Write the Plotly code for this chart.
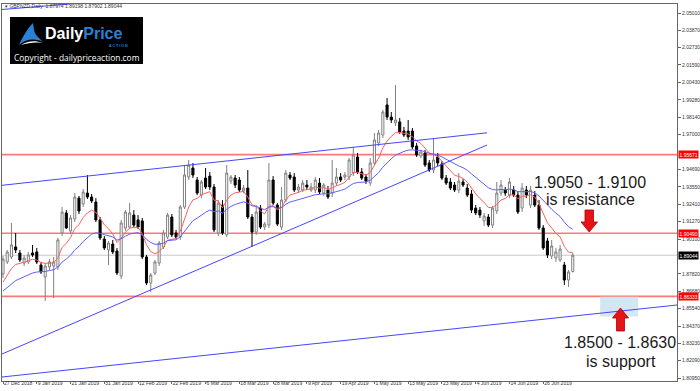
import plotly.graph_objects as go
import pandas as pd

# ---------------- data ----------------
dates = [d.strftime('%Y-%m-%d') for d in pd.bdate_range('2018-12-27', '2019-07-05')
         if d.strftime('%Y-%m-%d') != '2019-01-01']

opens = [1.8781, 1.8860, 1.8893, 1.8959, 1.8919, 1.8853, 1.8860, 1.8919, 1.8926, 1.8840,
         1.8761, 1.8827, 1.8833, 1.8827, 1.9051, 1.9183, 1.9064, 1.9143, 1.9281, 1.9242,
         1.9314, 1.9288, 1.9255, 1.9137, 1.9011, 1.8939, 1.8978, 1.8932, 1.8767, 1.9084,
         1.9090, 1.9169, 1.9137, 1.9130, 1.8893, 1.8721, 1.8787, 1.8853, 1.8959, 1.9024,
         1.9156, 1.9051, 1.9024, 1.9222, 1.9420, 1.9479, 1.9400, 1.9301, 1.9413, 1.9426,
         1.9354, 1.9051, 1.9235, 1.9038, 1.9393, 1.9413, 1.9400, 1.9328, 1.9347, 1.9156,
         1.9057, 1.9215, 1.9090, 1.9103, 1.9400, 1.9235, 1.9090, 1.9268, 1.9433, 1.9420,
         1.9334, 1.9334, 1.9367, 1.9334, 1.9334, 1.9380, 1.9314, 1.9334, 1.9314, 1.9380,
         1.9420, 1.9420, 1.9420, 1.9446, 1.9552, 1.9453, 1.9420, 1.9380, 1.9512, 1.9644,
         1.9697, 1.9895, 1.9815, 1.9776, 1.9783, 1.9723, 1.9723, 1.9723, 1.9624, 1.9558,
         1.9578, 1.9512, 1.9466, 1.9552, 1.9506, 1.9413, 1.9387, 1.9367, 1.9334, 1.9387,
         1.9347, 1.9308, 1.9215, 1.9202, 1.9130, 1.9156, 1.9103, 1.9196, 1.9314, 1.9334,
         1.9301, 1.9334, 1.9301, 1.9215, 1.9334, 1.9235, 1.9301, 1.9235, 1.9084, 1.8998,
         1.8899, 1.8886, 1.8873, 1.8840, 1.8741, 1.87974]
highs = [1.8899, 1.8939, 1.9117, 1.9051, 1.8939, 1.8906, 1.8926, 1.8972, 1.8952, 1.8860,
         1.8853, 1.8879, 1.8893, 1.9018, 1.9222, 1.9202, 1.9169, 1.9314, 1.9295, 1.9341,
         1.9433, 1.9308, 1.9281, 1.9156, 1.9031, 1.8998, 1.9005, 1.8952, 1.9137, 1.9202,
         1.9248, 1.9202, 1.9169, 1.9150, 1.8906, 1.8787, 1.8873, 1.8998, 1.9071, 1.9183,
         1.9176, 1.9071, 1.9235, 1.9499, 1.9532, 1.9512, 1.9420, 1.9400, 1.9479, 1.9453,
         1.9374, 1.9268, 1.9268, 1.9499, 1.9433, 1.9433, 1.9420, 1.9367, 1.9466, 1.9176,
         1.9235, 1.9235, 1.9123, 1.9512, 1.9426, 1.9248, 1.9354, 1.9466, 1.9453, 1.9446,
         1.9374, 1.9400, 1.9400, 1.9380, 1.9420, 1.9413, 1.9380, 1.9361, 1.9532, 1.9479,
         1.9446, 1.9453, 1.9545, 1.9618, 1.9578, 1.9479, 1.9440, 1.9545, 1.9710, 1.9730,
         1.9862, 1.9941, 1.9848, 2.0026, 1.9809, 1.9750, 1.9796, 1.9743, 1.9644, 1.9598,
         1.9598, 1.9532, 1.9677, 1.9578, 1.9525, 1.9433, 1.9413, 1.9387, 1.9446, 1.9407,
         1.9374, 1.9334, 1.9235, 1.9222, 1.9183, 1.9176, 1.9229, 1.9387, 1.9400, 1.9354,
         1.9413, 1.9361, 1.9328, 1.9380, 1.9361, 1.9361, 1.9328, 1.9268, 1.9103, 1.9018,
         1.9005, 1.8952, 1.8972, 1.8860, 1.8807, 1.89198]
lows = [1.8754, 1.8846, 1.8879, 1.8919, 1.8860, 1.8833, 1.8846, 1.8893, 1.8846, 1.8781,
        1.8603, 1.8807, 1.8622, 1.8807, 1.9031, 1.9077, 1.9044, 1.9123, 1.9176, 1.9222,
        1.9275, 1.9248, 1.9123, 1.9005, 1.8939, 1.8840, 1.8912, 1.8774, 1.8747, 1.9064,
        1.9077, 1.9090, 1.9077, 1.8879, 1.8708, 1.8662, 1.8774, 1.8833, 1.8945, 1.9011,
        1.9024, 1.9011, 1.9005, 1.9209, 1.9400, 1.9413, 1.9301, 1.9281, 1.9341, 1.9334,
        1.9057, 1.9031, 1.9038, 1.9024, 1.9374, 1.9347, 1.9321, 1.9314, 1.9143, 1.8959,
        1.9038, 1.9077, 1.9071, 1.9084, 1.9235, 1.9097, 1.9071, 1.9255, 1.9400, 1.9321,
        1.9314, 1.9321, 1.9334, 1.9321, 1.9314, 1.9308, 1.9295, 1.9275, 1.9288, 1.9361,
        1.9387, 1.9400, 1.9400, 1.9426, 1.9440, 1.9400, 1.9374, 1.9361, 1.9499, 1.9624,
        1.9677, 1.9796, 1.9776, 1.9756, 1.9704, 1.9684, 1.9664, 1.9605, 1.9552, 1.9545,
        1.9486, 1.9453, 1.9446, 1.9492, 1.9400, 1.9367, 1.9334, 1.9321, 1.9314, 1.9354,
        1.9288, 1.9183, 1.9169, 1.9150, 1.9097, 1.9090, 1.9084, 1.9176, 1.9295, 1.9295,
        1.9281, 1.9288, 1.9176, 1.9189, 1.9281, 1.9215, 1.9222, 1.9071, 1.8939, 1.8886,
        1.8879, 1.8860, 1.8860, 1.8708, 1.8695, 1.87902]
closes = [1.8879, 1.8926, 1.8972, 1.8939, 1.8873, 1.8886, 1.8906, 1.8906, 1.8860, 1.8794,
          1.8833, 1.8860, 1.8860, 1.9005, 1.9189, 1.9084, 1.9150, 1.9288, 1.9196, 1.9321,
          1.9288, 1.9262, 1.9137, 1.9018, 1.8952, 1.8985, 1.8926, 1.8787, 1.9117, 1.9189,
          1.9183, 1.9103, 1.9090, 1.8893, 1.8721, 1.8774, 1.8860, 1.8985, 1.9051, 1.9169,
          1.9038, 1.9024, 1.9222, 1.9433, 1.9499, 1.9433, 1.9314, 1.9387, 1.9354, 1.9354,
          1.9071, 1.9248, 1.9051, 1.9446, 1.9420, 1.9367, 1.9334, 1.9347, 1.9156, 1.9057,
          1.9189, 1.9090, 1.9110, 1.9400, 1.9248, 1.9110, 1.9268, 1.9446, 1.9413, 1.9334,
          1.9354, 1.9380, 1.9354, 1.9354, 1.9400, 1.9321, 1.9367, 1.9288, 1.9380, 1.9420,
          1.9400, 1.9433, 1.9532, 1.9565, 1.9453, 1.9413, 1.9393, 1.9512, 1.9664, 1.9710,
          1.9848, 1.9815, 1.9796, 1.9796, 1.9717, 1.9697, 1.9684, 1.9618, 1.9565, 1.9585,
          1.9499, 1.9466, 1.9532, 1.9512, 1.9413, 1.9380, 1.9347, 1.9334, 1.9393, 1.9367,
          1.9301, 1.9202, 1.9183, 1.9169, 1.9163, 1.9103, 1.9215, 1.9314, 1.9367, 1.9314,
          1.9387, 1.9301, 1.9189, 1.9347, 1.9301, 1.9334, 1.9235, 1.9084, 1.8952, 1.8906,
          1.8965, 1.8926, 1.8945, 1.8741, 1.8794, 1.89044]

ema_fast_period, ema_slow_period = 8, 21
ema_fast_seed, ema_slow_seed = 1.8684, 1.8647

y_ticks = [2.05010, 2.03870, 2.02730, 2.01590, 2.00430, 1.99280, 1.98140, 1.97000,
           1.94690, 1.93550, 1.92410, 1.91270, 1.90100, 1.87820, 1.86680, 1.85540,
           1.84370, 1.83230, 1.82090, 1.80950]
red_levels = [1.95671, 1.90490, 1.86333]
last_price = 1.89044

# trend lines: (bar index, price) anchor pairs
upper_channel = [(-0.24, 1.93652), (114.7, 1.97113)]
rising_line = [(-0.24, 1.82531), (114.7, 1.96309)]
lower_channel = [(-0.24, 1.81015), (159.7, 1.85761)]
top_stub = [(-0.24, 2.05241), (15.9, 2.05603)]

support_zone = (1.8500, 1.8630)
support_zone_bars = (141.5, 150.5)
label_every = 8

x_range = [-0.24, 159.7]
y_range = [1.80752, 2.05603]


def ema(values, period, seed):
    a = 2.0 / (period + 1)
    out, prev = [], seed
    for v in values:
        prev = prev + a * (v - prev)
        out.append(prev)
    return out


idx = list(range(len(dates)))
fig = go.Figure()

fig.add_trace(go.Candlestick(
    x=idx, open=opens, high=highs, low=lows, close=closes,
    increasing=dict(line=dict(color='#808080', width=1), fillcolor='#ffffff'),
    decreasing=dict(line=dict(color='#000000', width=1), fillcolor='#000000'),
    showlegend=False, hoverinfo='skip'))

fig.add_trace(go.Scatter(x=idx, y=ema(closes, ema_fast_period, ema_fast_seed), mode='lines',
                         line=dict(color='rgb(255,95,95)', width=1), showlegend=False, hoverinfo='skip'))
fig.add_trace(go.Scatter(x=idx, y=ema(closes, ema_slow_period, ema_slow_seed), mode='lines',
                         line=dict(color='rgb(95,95,255)', width=1), showlegend=False, hoverinfo='skip'))

shapes = []
for lv in red_levels:
    shapes.append(dict(type='line', xref='paper', x0=0, x1=1, yref='y', y0=lv, y1=lv,
                       line=dict(color='rgb(255,120,120)', width=1.6), layer='below'))
shapes.append(dict(type='line', xref='paper', x0=0, x1=1, yref='y', y0=last_price, y1=last_price,
                   line=dict(color='#c8c8c8', width=1), layer='below'))
for seg in (upper_channel, rising_line, lower_channel, top_stub):
    shapes.append(dict(type='line', xref='x', yref='y', x0=seg[0][0], y0=seg[0][1],
                       x1=seg[1][0], y1=seg[1][1], line=dict(color='rgb(70,70,255)', width=1)))
shapes.append(dict(type='rect', xref='x', yref='y', x0=support_zone_bars[0], x1=support_zone_bars[1],
                   y0=support_zone[0], y1=support_zone[1], fillcolor='rgb(212,230,242)',
                   line=dict(width=0), layer='below'))

# pixel helpers for decorations
X0, X1, Y0, Y1 = 2, 677, 4, 381


def px(x):
    return (x - X0) / (X1 - X0)


def py(y):
    return (Y1 - y) / (Y1 - Y0)


def path(pts):
    return 'M ' + ' L '.join(f'{px(a):.5f},{py(b):.5f}' for a, b in pts) + ' Z'


down_arrow = [(585, 210), (593.5, 210), (593.5, 222), (597.5, 222), (589.2, 232), (581, 222), (585, 222)]
up_arrow = [(616.5, 331), (624.5, 331), (624.5, 318), (628.5, 318), (620.5, 308), (612.5, 318), (616.5, 318)]
for pts in (down_arrow, up_arrow):
    shapes.append(dict(type='path', xref='paper', yref='paper', path=path(pts),
                       fillcolor='rgb(230,20,25)', line=dict(color='rgb(170,0,0)', width=0.8)))

# logo box
shapes.append(dict(type='rect', xref='paper', yref='paper', x0=px(10), x1=px(143), y0=py(64), y1=py(17),
                   fillcolor='#000000', line=dict(width=0)))
swoosh = (f'M {px(19):.5f},{py(45):.5f} C {px(23):.5f},{py(36):.5f} {px(28):.5f},{py(28):.5f} '
          f'{px(33):.5f},{py(23):.5f} C {px(34):.5f},{py(29):.5f} {px(34):.5f},{py(33):.5f} '
          f'{px(37):.5f},{py(36):.5f} C {px(39):.5f},{py(38):.5f} {px(41):.5f},{py(40):.5f} '
          f'{px(43):.5f},{py(42):.5f} C {px(35):.5f},{py(38):.5f} {px(26):.5f},{py(39):.5f} '
          f'{px(19):.5f},{py(45):.5f} Z')
shapes.append(dict(type='path', xref='paper', yref='paper', path=swoosh,
                   fillcolor='rgb(40,130,215)', line=dict(width=0)))
white_swoosh = (f'M {px(21):.5f},{py(45):.5f} C {px(27):.5f},{py(41):.5f} {px(35):.5f},{py(40):.5f} '
                f'{px(43):.5f},{py(43):.5f} C {px(35):.5f},{py(42):.5f} {px(28):.5f},{py(43):.5f} '
                f'{px(21):.5f},{py(45):.5f} Z')
shapes.append(dict(type='path', xref='paper', yref='paper', path=white_swoosh,
                   fillcolor='#ffffff', line=dict(width=0)))

ann = []
# price labels on the right axis
for lv in red_levels:
    ann.append(dict(xref='paper', x=1, xanchor='left', xshift=1, yref='y', y=lv, yanchor='middle',
                    text=f'{lv:.5f}', showarrow=False, bgcolor='rgb(255,0,0)', borderpad=0.5,
                    font=dict(size=5, color='#ffffff', family='Liberation Sans')))
ann.append(dict(xref='paper', x=1, xanchor='left', xshift=1, yref='y', y=last_price, yanchor='middle',
                text=f'{last_price:.5f}', showarrow=False, bgcolor='#000000', borderpad=0.5,
                font=dict(size=5, color='#ffffff', family='Liberation Sans')))

# header
ann.append(dict(xref='paper', yref='paper', x=px(3), y=py(6.5), xanchor='left', yanchor='middle',
                text=f'▾ GBPNZD,Daily  {opens[-1]:.5f} {highs[-1]:.5f} {lows[-1]:.5f} {closes[-1]:.5f}',
                showarrow=False, font=dict(size=5, color='#333333', family='Liberation Sans')))

# logo text
ann.append(dict(xref='paper', yref='paper', x=px(43), y=py(33.5), xanchor='left', yanchor='middle',
                text='<b>Daily</b><span style="color:rgb(40,130,215)"><b>Price</b></span>',
                showarrow=False, font=dict(size=16, color='#ffffff', family='Liberation Sans')))
ann.append(dict(xref='paper', yref='paper', x=px(130), y=py(45.5), xanchor='right', yanchor='middle',
                text='<b>A C T I O N</b>', showarrow=False,
                font=dict(size=3.6, color='rgb(40,130,215)', family='Liberation Sans')))
ann.append(dict(xref='paper', yref='paper', x=px(76.5), y=py(57.5), xanchor='center', yanchor='middle',
                text='Copyright - dailypriceaction.com', showarrow=False,
                font=dict(size=8.4, color='#ffffff', family='Open Sans')))

# zone texts
txt_font = dict(size=16, color='#1a1a1a', family='Liberation Sans')
ann.append(dict(xref='paper', yref='paper', x=px(590), y=py(182.5), xanchor='center', yanchor='middle',
                text='1.9050 - 1.9100', showarrow=False, font=txt_font))
ann.append(dict(xref='paper', yref='paper', x=px(590), y=py(199.5), xanchor='center', yanchor='middle',
                text='is resistance', showarrow=False, font=txt_font))
ann.append(dict(xref='paper', yref='paper', x=px(620), y=py(342.5), xanchor='center', yanchor='middle',
                text='1.8500 - 1.8630', showarrow=False, font=txt_font))
ann.append(dict(xref='paper', yref='paper', x=px(621), y=py(361), xanchor='center', yanchor='middle',
                text='is support', showarrow=False, font=txt_font))

tick_idx = idx[::label_every]
tick_txt = [pd.Timestamp(dates[i]).strftime('%-d %b %Y') for i in tick_idx]

fig.update_layout(
    width=700, height=391, margin=dict(l=X0, r=700 - X1, t=Y0, b=391 - Y1, autoexpand=False),
    paper_bgcolor='#ffffff', plot_bgcolor='#ffffff', shapes=shapes, annotations=ann,
    hovermode=False, showlegend=False,
    xaxis=dict(range=x_range, showgrid=False, zeroline=False, rangeslider=dict(visible=False),
               tickmode='array', tickvals=tick_idx, ticktext=tick_txt, tickangle=0,
               ticks='outside', ticklen=2, tickcolor='#666666', ticklabelposition='outside right',
               ticklabelstandoff=-3,
               tickfont=dict(size=5, color='#333333', family='Liberation Sans'),
               showline=True, linecolor='#666666', linewidth=1, mirror=True, automargin=False),
    yaxis=dict(range=y_range, side='right', showgrid=False, zeroline=False,
               tickmode='array', tickvals=y_ticks, ticktext=[f'{v:.5f}' for v in y_ticks],
               ticks='outside', ticklen=3, tickcolor='#666666',
               tickfont=dict(size=5, color='#333333', family='Liberation Sans'),
               showline=True, linecolor='#666666', linewidth=1, mirror=True, automargin=False),
)

fig.write_html('out.html')
